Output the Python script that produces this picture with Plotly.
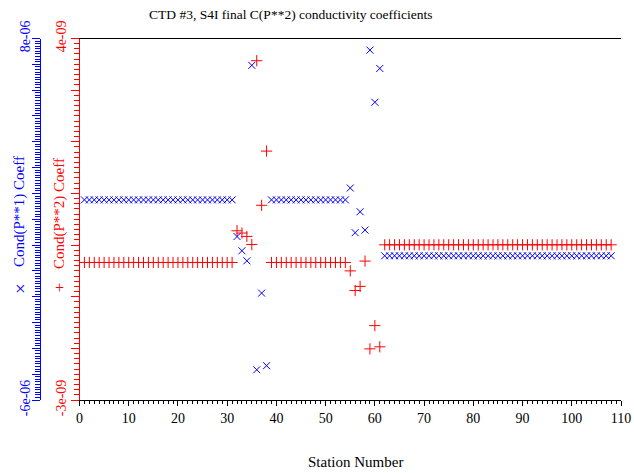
import plotly.graph_objects as go

W, H = 634, 473

# ---- data ----
stations = list(range(1, 109))

# Cond(P**1) coefficient, in units of 1e-6
cond_p1_e6 = [
    1.75, 1.75, 1.75, 1.75, 1.75, 1.75, 1.75, 1.75, 1.75, 1.75,
    1.75, 1.75, 1.75, 1.75, 1.75, 1.75, 1.75, 1.75, 1.75, 1.75,
    1.75, 1.75, 1.75, 1.75, 1.75, 1.75, 1.75, 1.75, 1.75, 1.75,
    1.75,
    0.33, -0.22, -0.61, 6.96, -4.83, -1.86, -4.67,
    1.75, 1.75, 1.75, 1.75, 1.75, 1.75, 1.75, 1.75, 1.75, 1.75,
    1.75, 1.75, 1.75, 1.75, 1.75, 1.75,
    2.21, 0.48, 1.29, 0.58, 7.55, 5.53, 6.84,
    -0.415, -0.415, -0.415, -0.415, -0.415, -0.415, -0.415, -0.415, -0.415, -0.415,
    -0.415, -0.415, -0.415, -0.415, -0.415, -0.415, -0.415, -0.415, -0.415, -0.415,
    -0.415, -0.415, -0.415, -0.415, -0.415, -0.415, -0.415, -0.415, -0.415, -0.415,
    -0.415, -0.415, -0.415, -0.415, -0.415, -0.415, -0.415, -0.415, -0.415, -0.415,
    -0.415, -0.415, -0.415, -0.415, -0.415, -0.415, -0.415,
]

# Cond(P**2) coefficient, in units of 1e-9
cond_p2_e9 = [
    -0.337, -0.337, -0.337, -0.337, -0.337, -0.337, -0.337, -0.337, -0.337, -0.337,
    -0.337, -0.337, -0.337, -0.337, -0.337, -0.337, -0.337, -0.337, -0.337, -0.337,
    -0.337, -0.337, -0.337, -0.337, -0.337, -0.337, -0.337, -0.337, -0.337, -0.337,
    -0.337,
    0.277, 0.233, 0.167, 0.01, 3.57, 0.77, 1.82,
    -0.337, -0.337, -0.337, -0.337, -0.337, -0.337, -0.337, -0.337, -0.337, -0.337,
    -0.337, -0.337, -0.337, -0.337, -0.337, -0.337,
    -0.50, -0.88, -0.80, -0.31, -2.01, -1.56, -1.97,
    0.005, 0.005, 0.005, 0.005, 0.005, 0.005, 0.005, 0.005, 0.005, 0.005,
    0.005, 0.005, 0.005, 0.005, 0.005, 0.005, 0.005, 0.005, 0.005, 0.005,
    0.005, 0.005, 0.005, 0.005, 0.005, 0.005, 0.005, 0.005, 0.005, 0.005,
    0.005, 0.005, 0.005, 0.005, 0.005, 0.005, 0.005, 0.005, 0.005, 0.005,
    0.005, 0.005, 0.005, 0.005, 0.005, 0.005, 0.005,
]

x_ticks = [0, 10, 20, 30, 40, 50, 60, 70, 80, 90, 100, 110]
x_ticklabels = ["0", "10", "20", "30", "40", "50", "60", "70", "80", "90", "100", "110"]
p1_ticks_e6 = [-6, -5, -4, -3, -2, -1, 0, 1, 2, 3, 4, 5, 6, 7, 8]
p1_ticklabels = ["-6e-06"] + [""] * 13 + ["8e-06"]
p2_ticks_e9 = [-3, -2, -1, 0, 1, 2, 3, 4]
p2_ticklabels = ["-3e-09"] + [""] * 6 + ["4e-09"]

title_text = "CTD #3, S4I final C(P**2) conductivity coefficients"
x_title = "Station Number"
p1_title = "Cond(P**1) Coeff"
p2_title = "Cond(P**2) Coeff"

# ---- styling ----
FONT = "Liberation Serif"
BLUE = "#0000ff"
RED = "#ff0000"
x0, x1 = 79.5 / W, 621 / W
y0, y1 = 1 - 400 / H, 1 - 38.5 / H
blue_pos = 40 / W

p1_vals = [v * 1e-6 for v in cond_p1_e6]
p2_vals = [v * 1e-9 for v in cond_p2_e9]
p1_tv = [v * 1e-6 for v in p1_ticks_e6]
p2_tv = [v * 1e-9 for v in p2_ticks_e9]
p1_range = [p1_tv[0], p1_tv[-1]]
p2_range = [p2_tv[0], p2_tv[-1]]

fig = go.Figure()
fig.add_trace(go.Scatter(
    x=stations, y=p2_vals, mode="markers", xaxis="x", yaxis="y",
    marker=dict(symbol="cross-thin", size=8, line=dict(color=RED, width=1), color=RED),
    showlegend=False, name=p2_title))
fig.add_trace(go.Scatter(
    x=stations, y=p1_vals, mode="markers", xaxis="x", yaxis="y2",
    marker=dict(symbol="x-thin", size=7, line=dict(color=BLUE, width=1), color=BLUE),
    showlegend=False, name=p1_title))

common = dict(showgrid=False, zeroline=False, automargin=False)

fig.update_layout(
    width=W, height=H,
    margin=dict(l=0, r=0, t=0, b=0, autoexpand=False),
    paper_bgcolor="white", plot_bgcolor="white",
    font=dict(family=FONT, size=14, color="black"),
    xaxis=dict(
        domain=[x0, x1], range=[0, 110], anchor="y", side="bottom",
        showline=True, linecolor="black", linewidth=1, mirror=True,
        ticks="outside", ticklen=5, tickwidth=1, tickcolor="black",
        tickvals=x_ticks, ticktext=x_ticklabels,
        tickfont=dict(family=FONT, size=14, color="black"),
        minor=dict(dtick=1, ticks="outside", ticklen=3, tickwidth=1, tickcolor="black"),
        **common),
    xaxis2=dict(
        overlaying="x", range=[0, 110], anchor="y", side="bottom",
        showline=False, ticks="inside", ticklen=7, tickwidth=1, tickcolor="black",
        tickvals=x_ticks, showticklabels=False,
        minor=dict(dtick=1, ticks="inside", ticklen=3, tickwidth=1, tickcolor="black"),
        **common),
    yaxis=dict(
        domain=[y0, y1], range=p2_range, anchor="x", side="left",
        showline=True, linecolor=RED, linewidth=1,
        ticks="outside", ticklen=8, tickwidth=1, tickcolor=RED,
        tickvals=p2_tv, ticktext=p2_ticklabels, tickangle=-90,
        ticklabelstandoff=-1,
        tickfont=dict(family=FONT, size=14, color=RED),
        minor=dict(dtick=1e-10, ticks="outside", ticklen=5, tickwidth=1, tickcolor=RED),
        **common),
    yaxis3=dict(
        overlaying="y", range=p2_range, anchor="x", side="left",
        showline=False, ticks="inside", ticklen=5, tickwidth=1, tickcolor=RED,
        tickvals=p2_tv, showticklabels=False,
        minor=dict(dtick=1e-10, ticks="inside", ticklen=3, tickwidth=1, tickcolor=RED),
        **common),
    yaxis2=dict(
        overlaying="y", range=p1_range, anchor="free", position=blue_pos, side="left",
        showline=True, linecolor=BLUE, linewidth=1,
        ticks="outside", ticklen=8, tickwidth=1, tickcolor=BLUE,
        tickvals=p1_tv, ticktext=p1_ticklabels, tickangle=-90,
        ticklabelstandoff=-4,
        tickfont=dict(family=FONT, size=14, color=BLUE),
        minor=dict(dtick=1e-7, ticks="outside", ticklen=5, tickwidth=1, tickcolor=BLUE),
        **common),
    yaxis4=dict(
        overlaying="y", range=p1_range, anchor="free", position=blue_pos, side="left",
        showline=False, ticks="inside", ticklen=5, tickwidth=1, tickcolor=BLUE,
        tickvals=p1_tv, showticklabels=False,
        minor=dict(dtick=1e-7, ticks="inside", ticklen=3, tickwidth=1, tickcolor=BLUE),
        **common),
    yaxis5=dict(
        overlaying="y", range=p2_range, anchor="x", side="right",
        showline=True, linecolor="black", linewidth=1,
        ticks="", showticklabels=False, **common),
    annotations=[
        dict(text=title_text, x=291 / W, y=1 - 14 / H, xref="paper", yref="paper",
             xanchor="center", yanchor="middle", showarrow=False,
             font=dict(family=FONT, size=13.5, color="black")),
        dict(text=x_title, x=355 / W, y=1 - 462 / H, xref="paper", yref="paper",
             xanchor="center", yanchor="middle", showarrow=False,
             font=dict(family=FONT, size=15, color="black")),
        dict(text=p1_title, x=20 / W, y=1 - 212 / H, xref="paper", yref="paper",
             xanchor="center", yanchor="middle", showarrow=False, textangle=-90,
             font=dict(family=FONT, size=15, color=BLUE)),
        dict(text=p2_title, x=59 / W, y=1 - 214 / H, xref="paper", yref="paper",
             xanchor="center", yanchor="middle", showarrow=False, textangle=-90,
             font=dict(family=FONT, size=15, color=RED)),
        dict(text="×", x=20 / W, y=1 - 288 / H, xref="paper", yref="paper",
             xanchor="center", yanchor="middle", showarrow=False,
             font=dict(family=FONT, size=19, color=BLUE)),
        dict(text="+", x=59 / W, y=1 - 287 / H, xref="paper", yref="paper",
             xanchor="center", yanchor="middle", showarrow=False,
             font=dict(family=FONT, size=16, color=RED)),
    ],
)

fig.write_html("out.html", config={"displayModeBar": False},
               post_script="document.body.style.margin='0px';")
